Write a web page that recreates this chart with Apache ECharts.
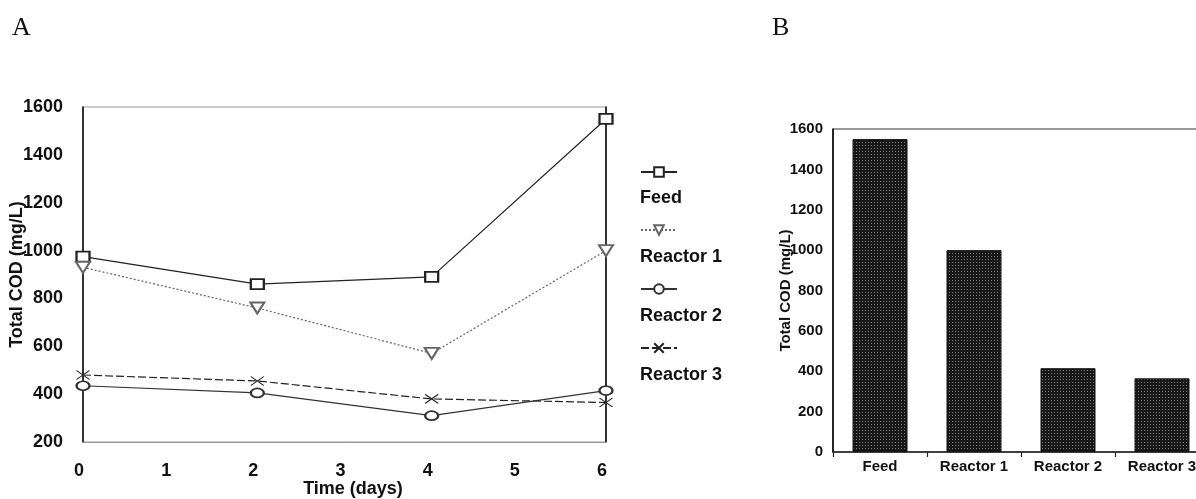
<!DOCTYPE html>
<html>
<head>
<meta charset="utf-8">
<title>Total COD</title>
<script src="https://cdn.jsdelivr.net/npm/echarts@6/dist/echarts.min.js"></script>
<style>
  html, body { margin: 0; padding: 0; background: #fff; }
  #chart { width: 1196px; height: 499px; }
</style>
</head>
<body>
<div id="chart"></div>
<script>
// Time course of total COD (panel A)
const days = [0, 2, 4, 6];
const seriesNames = ['Feed', 'Reactor 1', 'Reactor 2', 'Reactor 3'];
const feed = [975, 860, 890, 1550];
const reactor1 = [930, 760, 570, 1000];
const reactor2 = [435, 405, 310, 415];
const reactor3 = [480, 455, 380, 365];

// Final total COD per stream (panel B)
const barCategories = ['Feed', 'Reactor 1', 'Reactor 2', 'Reactor 3'];
const barValues = [1550, 1000, 415, 365];

const sans = '"Liberation Sans", Arial, sans-serif';
const ink = '#111';
const plain = v => String(v);

// stippled dark fill for the bars
function stipple() {
  const c = document.createElement('canvas');
  c.width = 3; c.height = 3;
  const g = c.getContext('2d');
  g.fillStyle = '#181818';
  g.fillRect(0, 0, 3, 3);
  g.fillStyle = '#7a7a7a';
  g.fillRect(1, 1, 1, 1);
  return c;
}

const chart = echarts.init(document.getElementById('chart'), null, { renderer: 'canvas' });

const lineSeries = [
  { name: seriesNames[0], values: feed, symbol: 'emptyRect', symbolSize: [13, 10], rotate: 0,
    color: '#222', dash: 'solid' },
  { name: seriesNames[1], values: reactor1, symbol: 'emptyTriangle', symbolSize: [14, 11], rotate: 180,
    color: '#666', dash: [2, 2] },
  { name: seriesNames[2], values: reactor2, symbol: 'emptyCircle', symbolSize: [13, 9], rotate: 0,
    color: '#333', dash: 'solid' },
  { name: seriesNames[3], values: reactor3, symbol: 'path://M0,0L10,10M0,10L10,0', symbolSize: [13, 9], rotate: 0,
    color: '#222', dash: [8, 3] }
];

const legendCenters = [172, 230, 289, 348];
const legendTextY = [198, 257, 316, 375];

const option = {
  backgroundColor: '#fff',
  animation: false,
  grid: [
    { left: 83, top: 107, width: 523, height: 335, show: true, borderColor: '#999', borderWidth: 1,
      outerBoundsMode: 'none', containLabel: false },
    { left: 833, top: 129, width: 376, height: 323, show: true, borderColor: '#333', borderWidth: 1,
      outerBoundsMode: 'none', containLabel: false }
  ],
  xAxis: [
    {
      type: 'value', gridIndex: 0, min: 0, max: 6, interval: 1,
      axisLine: { show: true, lineStyle: { color: '#999', width: 1 } },
      axisTick: { show: false },
      splitLine: { show: false },
      axisLabel: { color: ink, fontFamily: sans, fontWeight: 'bold', fontSize: 18, margin: 20,
        padding: [0, 8, 0, 0], formatter: plain },
      name: 'Time (days)', nameLocation: 'middle', nameGap: 38, nameMoveOverlap: false,
      nameTextStyle: { color: ink, fontFamily: sans, fontWeight: 'bold', fontSize: 18, padding: [0, 0, 0, 17] }
    },
    {
      type: 'category', gridIndex: 1, data: barCategories,
      axisLine: { show: true, lineStyle: { color: '#222', width: 1.5 } },
      axisTick: { show: true, inside: false, length: 5, lineStyle: { color: '#222', width: 1.2 } },
      splitLine: { show: false },
      axisLabel: { color: ink, fontFamily: sans, fontWeight: 'bold', fontSize: 15, margin: 7, interval: 0 }
    }
  ],
  yAxis: [
    {
      type: 'value', gridIndex: 0, min: 200, max: 1600, interval: 200,
      axisLine: { show: true, lineStyle: { color: '#000', width: 1.5 } },
      axisTick: { show: false },
      splitLine: { show: false },
      axisLabel: { color: ink, fontFamily: sans, fontWeight: 'bold', fontSize: 18, margin: 20, formatter: plain },
      name: 'Total COD (mg/L)', nameLocation: 'middle', nameGap: 57, nameMoveOverlap: false,
      nameTextStyle: { color: ink, fontFamily: sans, fontWeight: 'bold', fontSize: 18 }
    },
    {
      type: 'value', gridIndex: 0, min: 200, max: 1600, interval: 200, position: 'right',
      axisLine: { show: true, lineStyle: { color: '#000', width: 1.5 } },
      axisTick: { show: false },
      splitLine: { show: false },
      axisLabel: { show: false }
    },
    {
      type: 'value', gridIndex: 1, min: 0, max: 1600, interval: 200,
      axisLine: { show: true, lineStyle: { color: '#000', width: 1.5 } },
      axisTick: { show: false },
      splitLine: { show: false },
      axisLabel: { color: ink, fontFamily: sans, fontWeight: 'bold', fontSize: 15, margin: 10, formatter: plain },
      name: 'Total COD (mg/L)', nameLocation: 'middle', nameGap: 40, nameMoveOverlap: false,
      nameTextStyle: { color: ink, fontFamily: sans, fontWeight: 'bold', fontSize: 15 }
    }
  ],
  legend: lineSeries.map((s, i) => ({
    data: [s.name],
    left: 640,
    top: legendCenters[i] - 6,
    padding: 0,
    itemWidth: 36,
    itemHeight: 12,
    selectedMode: false,
    formatter: () => '',
    textStyle: { fontSize: 1 }
  })),
  graphic: [
    { type: 'text', style: { x: 12, y: 28, text: 'A', fill: ink, font: '26px "Liberation Serif", serif', verticalAlign: 'middle' } },
    { type: 'text', style: { x: 772, y: 28, text: 'B', fill: ink, font: '26px "Liberation Serif", serif', verticalAlign: 'middle' } }
  ].concat(seriesNames.map((n, i) => ({
    type: 'text',
    style: { x: 640, y: legendTextY[i], text: n, fill: ink, font: 'bold 18px ' + sans, verticalAlign: 'middle' }
  }))),
  series: lineSeries.map(s => ({
    name: s.name,
    type: 'line',
    xAxisIndex: 0,
    yAxisIndex: 0,
    data: days.map((d, k) => [d, s.values[k]]),
    symbol: s.symbol,
    symbolSize: s.symbolSize,
    symbolRotate: s.rotate,
    showAllSymbol: true,
    lineStyle: { color: s.color, width: 1.2, type: s.dash },
    itemStyle: { color: s.color, borderColor: s.color, borderWidth: 1.2 },
    emphasis: { disabled: true },
    z: 3
  })).concat([{
    name: 'Total COD',
    type: 'bar',
    xAxisIndex: 1,
    yAxisIndex: 2,
    data: barValues,
    barWidth: 55,
    itemStyle: { color: { image: stipple(), repeat: 'repeat' }, borderColor: '#111', borderWidth: 1 },
    emphasis: { disabled: true }
  }])
};

chart.setOption(option);
</script>
</body>
</html>
